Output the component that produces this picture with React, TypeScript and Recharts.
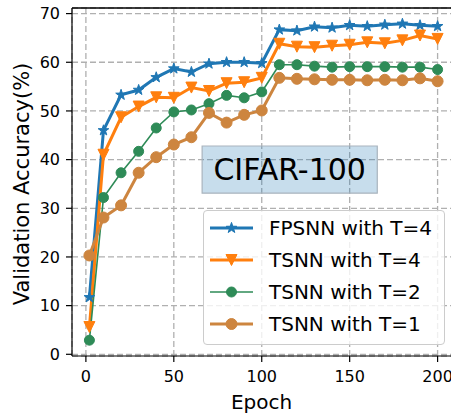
import { LineChart, Line, XAxis, YAxis, CartesianGrid, Legend, ReferenceArea, ReferenceLine, Label } from "recharts";

const epochs = [2, 10, 20, 30, 40, 50, 60, 70, 80, 90, 100, 110, 120, 130, 140, 150, 160, 170, 180, 190, 200];
const fpsnnT4 = [11.7, 46.0, 53.3, 54.3, 56.9, 58.7, 58.0, 59.7, 60.0, 60.0, 59.8, 66.7, 66.5, 67.3, 67.1, 67.6, 67.4, 67.7, 67.9, 67.6, 67.4];
const tsnnT4 = [5.6, 41.0, 48.7, 50.9, 52.8, 52.7, 54.8, 54.1, 55.7, 55.9, 56.8, 63.8, 63.2, 63.1, 63.4, 63.6, 64.1, 63.9, 64.5, 65.5, 64.8];
const tsnnT2 = [2.9, 32.2, 37.3, 41.7, 46.5, 49.8, 50.2, 51.5, 53.2, 52.7, 53.9, 59.5, 59.5, 59.2, 59.0, 59.1, 59.1, 59.1, 59.0, 59.0, 58.5];
const tsnnT1 = [20.3, 28.1, 30.6, 37.3, 40.5, 43.1, 44.6, 49.6, 47.6, 49.2, 50.1, 56.8, 56.6, 56.5, 56.4, 56.4, 56.3, 56.4, 56.3, 56.7, 56.1];

const xTicks = [0, 50, 100, 150, 200];
const yTicks = [0, 10, 20, 30, 40, 50, 60, 70];

const data = epochs.map((epoch, i) => ({
  epoch,
  fpsnnT4: fpsnnT4[i],
  tsnnT4: tsnnT4[i],
  tsnnT2: tsnnT2[i],
  tsnnT1: tsnnT1[i],
}));

type Kind = "star" | "tri" | "circle" | "bigcircle";

const series: { key: string; name: string; color: string; width: number; marker: Kind }[] = [
  { key: "fpsnnT4", name: "FPSNN with T=4", color: "#1f77b4", width: 3, marker: "star" },
  { key: "tsnnT4", name: "TSNN with T=4", color: "#ff7f0e", width: 3, marker: "tri" },
  { key: "tsnnT2", name: "TSNN with T=2", color: "#2e8b57", width: 1.6, marker: "circle" },
  { key: "tsnnT1", name: "TSNN with T=1", color: "#cd853f", width: 3, marker: "bigcircle" },
];

const FONT = "'DejaVu Sans', sans-serif";

function Marker({ cx, cy, kind, color }: { cx: number; cy: number; kind: Kind; color: string }) {
  if (kind === "star") {
    const pts: string[] = [];
    for (let i = 0; i < 10; i++) {
      const r = i % 2 === 0 ? 5.6 : 2.2;
      const a = -Math.PI / 2 + (i * Math.PI) / 5;
      pts.push(`${cx + r * Math.cos(a)},${cy + r * Math.sin(a)}`);
    }
    return <polygon points={pts.join(" ")} fill={color} stroke={color} strokeWidth={1} />;
  }
  if (kind === "tri") {
    const s = 5.5;
    return (
      <polygon
        points={`${cx - s},${cy - s} ${cx + s},${cy - s} ${cx},${cy + s}`}
        fill={color}
        stroke={color}
        strokeWidth={1}
      />
    );
  }
  return <circle cx={cx} cy={cy} r={kind === "circle" ? 5 : 5.5} fill={color} stroke={color} strokeWidth={1} />;
}

function LegendBox() {
  return (
    <div
      style={{
        background: "rgba(255,255,255,0.8)",
        border: "1px solid #cccccc",
        borderRadius: 4,
        boxSizing: "border-box",
        width: 242,
        height: 135,
        paddingTop: 1,
        fontFamily: FONT,
        fontSize: 20,
        color: "#000",
      }}
    >
      {series.map((s) => (
        <div key={s.key} style={{ height: 32, display: "flex", alignItems: "center" }}>
          <svg width={43} height={20} style={{ marginLeft: 6, marginRight: 16, overflow: "visible" }}>
            <line x1={0} y1={10} x2={43} y2={10} stroke={s.color} strokeWidth={s.width} />
            <Marker cx={21.5} cy={10} kind={s.marker} color={s.color} />
          </svg>
          <span style={{ whiteSpace: "nowrap" }}>{s.name}</span>
        </div>
      ))}
    </div>
  );
}

export default function App() {
  return (
    <div style={{ width: 451, height: 417, overflow: "hidden", position: "relative", background: "#fff" }}>
      <style>{"body{margin:0;overflow:hidden}"}</style>
      <LineChart width={457} height={417} data={data} margin={{ top: 8, right: 2, left: 0, bottom: 0 }}>
        <CartesianGrid stroke="#b0b0b0" strokeWidth={1.3} strokeDasharray="6 3" />
        <XAxis
          dataKey="epoch"
          type="number"
          domain={[-7.9, 209.9]}
          ticks={xTicks}
          allowDataOverflow
          height={61}
          stroke="#000"
          strokeWidth={1.2}
          tickSize={6}
          tickMargin={9}
          tick={{ fill: "#000", fontSize: 16, fontFamily: FONT }}
        >
          <Label
            content={(props: any) => {
              const vb = props.viewBox || {};
              return (
                <text x={vb.x + vb.width / 2 - 2} y={vb.y + 53} textAnchor="middle" fontSize={20} fontFamily={FONT} fill="#000">
                  Epoch
                </text>
              );
            }}
          />
        </XAxis>
        <YAxis
          type="number"
          domain={[-0.35, 71.15]}
          ticks={yTicks}
          allowDataOverflow
          width={72}
          stroke="#000"
          strokeWidth={1.2}
          tickSize={6}
          tickMargin={6}
          tick={{ fill: "#000", fontSize: 16, fontFamily: FONT }}
        >
          <Label
            content={(props: any) => {
              const vb = props.viewBox || {};
              const cy = vb.y + vb.height / 2 + 2;
              return (
                <text
                  x={22}
                  y={cy}
                  transform={`rotate(-90, 22, ${cy})`}
                  textAnchor="middle"
                  dominantBaseline="central"
                  fontSize={21}
                  fontFamily={FONT}
                  fill="#000"
                >
                  Validation Accuracy(%)
                </text>
              );
            }}
          />
        </YAxis>
        <ReferenceLine y={71.15} stroke="#000" strokeWidth={1.5} ifOverflow="visible" />
        <ReferenceArea
          x1={66.1}
          x2={165.7}
          y1={33.1}
          y2={42.8}
          fill="#1f77b4"
          fillOpacity={0.25}
          stroke="#a9b4bd"
          strokeWidth={1.2}
          strokeOpacity={1}
          ifOverflow="visible"
        >
          <Label value="CIFAR-100" position="center" fontSize={30} fontFamily={FONT} fill="#000" />
        </ReferenceArea>
        {series.map((s) => (
          <Line
            key={s.key}
            dataKey={s.key}
            name={s.name}
            type="linear"
            stroke={s.color}
            strokeWidth={s.width}
            isAnimationActive={false}
            dot={(p: any) => (
              <Marker key={`${s.key}-${p.index}`} cx={p.cx} cy={p.cy} kind={s.marker} color={s.color} />
            )}
            activeDot={false}
          />
        ))}
        <Legend
          layout="vertical"
          align="center"
          verticalAlign="middle"
          content={() => <LegendBox />}
          wrapperStyle={{ left: 203, top: 210, width: 242, height: 135 }}
        />
      </LineChart>
    </div>
  );
}
